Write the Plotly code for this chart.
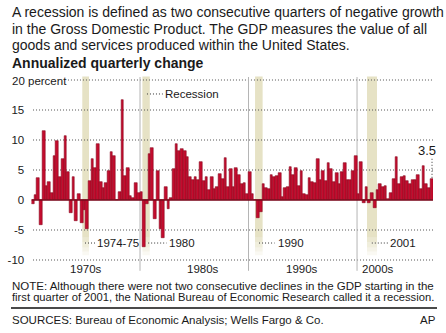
import plotly.graph_objects as go

# ---------------- data ----------------
years = list(range(1970, 2007))
quarters_per_year = 4
growth = [
    -0.7, 0.8, 3.6, -4.2,     # 1970
    11.5, 2.3, 3.0, 1.1,      # 1971
    7.3, 9.8, 3.9, 6.8,       # 1972
    10.6, 4.6, -2.1, 3.9,     # 1973
    -3.5, 1.0, -3.8, -1.6,    # 1974
    -4.8, 3.1, 6.9, 5.3,      # 1975
    9.4, 3.0, 2.0, 2.9,       # 1976
    4.8, 8.0, 7.4, 0.0,       # 1977
    1.3, 16.7, 4.0, 5.4,      # 1978
    0.7, 0.4, 2.9, 1.1,       # 1979
    1.3, -7.9, -0.7, 7.6,     # 1980
    8.6, -3.2, 4.9, -4.9,     # 1981
    -6.4, 2.2, -1.5, 0.3,     # 1982
    5.1, 9.3, 8.1, 8.5,       # 1983
    8.2, 7.2, 3.9, 3.3,       # 1984
    3.8, 3.4, 6.4, 3.1,       # 1985
    3.9, 1.6, 3.9, 1.9,       # 1986
    2.2, 4.4, 3.5, 7.0,       # 1987
    2.1, 5.2, 2.1, 5.4,       # 1988
    4.1, 2.6, 2.9, 1.0,       # 1989
    4.7, 1.0, 0.0, -3.0,      # 1990
    -2.0, 2.6, 2.0, 1.9,      # 1991
    4.2, 3.9, 4.0, 4.5,       # 1992
    0.5, 2.0, 2.1, 5.5,       # 1993
    4.1, 5.3, 2.3, 4.8,       # 1994
    1.0, 0.9, 3.6, 3.0,       # 1995
    2.9, 6.8, 3.4, 4.8,       # 1996
    3.1, 6.2, 5.1, 3.0,       # 1997
    4.5, 2.7, 4.7, 6.2,       # 1998
    3.4, 3.4, 4.8, 7.3,       # 1999
    1.0, 6.4, -0.5, 2.1,      # 2000
    -0.5, 1.2, -1.4, 1.6,     # 2001
    2.7, 2.2, 2.4, 0.2,       # 2002
    1.2, 3.5, 7.2, 2.7,       # 2003
    3.9, 4.0, 3.1, 2.6,       # 2004
    3.4, 3.3, 4.2, 1.8,       # 2005
    5.6, 2.6, 2.0, 3.5,       # 2006
]
recession_starts = [1974.68, 1980.22, 1990.6, 2000.92]
recession_ends = [1975.30, 1980.90, 1991.3, 2001.84]
recession_labels = ["1974-75", "1980", "1990", "2001"]
decades = [1970, 1980, 1990, 2000]
decade_labels = ["1970s", "1980s", "1990s", "2000s"]
tick_values = [-10, -5, 0, 5, 10, 15]
tick_labels = ["-10", "-5", "0", "5", "10", "15"]
last_value_label = "3.5"

# ---------------- figure ----------------
W, H = 446, 333
FONT = "Liberation Sans, Arial, sans-serif"
TXT = "#1a1a1a"

x_centers = [years[0] + (i + 0.5) / quarters_per_year for i in range(len(growth))]

fig = go.Figure()
fig.add_trace(go.Bar(
    x=x_centers, y=growth, width=1 / quarters_per_year,
    marker=dict(color="#c40c2e", line=dict(color="#8a0a20", width=0.6)),
    hoverinfo="skip", showlegend=False,
))

shapes = []
# recession bands with a fading bottom
for s, e in zip(recession_starts, recession_ends):
    shapes.append(dict(type="rect", xref="x", yref="y", x0=s, x1=e, y0=-6.3, y1=20.6,
                       fillcolor="#e6e2c5", line=dict(width=0), layer="below"))
    for k, (a, b) in enumerate([(-7.1, -6.3), (-7.9, -7.1), (-8.6, -7.9), (-9.2, -8.6)]):
        shapes.append(dict(type="rect", xref="x", yref="y", x0=s, x1=e, y0=a, y1=b,
                           fillcolor="#e6e2c5", opacity=[0.8, 0.6, 0.4, 0.2][k],
                           line=dict(width=0), layer="below"))

# dotted gridlines
for v in [-10, -5, 5, 10, 15]:
    shapes.append(dict(type="line", xref="x", yref="y", x0=1970.14, x1=2007, y0=v, y1=v,
                       line=dict(color="#555555", width=1, dash="1px,2px"), layer="below"))
shapes.append(dict(type="line", xref="x", yref="y", x0=1973.36, x1=2007, y0=20, y1=20,
                   line=dict(color="#555555", width=1, dash="1px,2px"), layer="below"))

# decade separators
for d in decades[1:]:
    shapes.append(dict(type="line", xref="x", yref="y", x0=d, x1=d, y0=-11.8, y1=20.5,
                       line=dict(color="#b4b4b4", width=1), layer="below"))

# zero line
shapes.append(dict(type="line", xref="x", yref="y", x0=1970, x1=2007, y0=0, y1=0,
                   line=dict(color="#7a0a1c", width=1.5), layer="above"))

# legend dots
shapes.append(dict(type="line", xref="x", yref="y", x0=1980.64, x1=1982.1, y0=17.67, y1=17.67,
                   line=dict(color="#333", width=1, dash="1px,2px")))
# recession label leaders
leaders = [(1974.93, 1975.85), (1980.75, 1982.45), (1990.97, 1992.4), (2001.36, 2002.85)]
for (a, b) in leaders:
    shapes.append(dict(type="line", xref="x", yref="y", x0=a, x1=b, y0=-7.17, y1=-7.17,
                       line=dict(color="#333", width=1, dash="1px,2px")))
# 3.5 leader
shapes.append(dict(type="line", xref="x", yref="y", x0=2006.91, x1=2006.91, y0=3.7, y1=7.0,
                   line=dict(color="#333", width=1, dash="1px,2px")))

annotations = []
def ann(text, x, y, xref="paper", yref="paper", size=13, xanchor="left", bold=False, color=TXT):
    annotations.append(dict(text=("<b>%s</b>" % text) if bold else text, x=x, y=y, xref=xref, yref=yref,
                            xanchor=xanchor, yanchor="middle", showarrow=False,
                            font=dict(family=FONT, size=size, color=color), borderpad=0))

ann("A recession is defined as two consecutive quarters of negative growth", 11 / W, 1 - 12.5 / H, size=14)
ann("in the Gross Domestic Product. The GDP measures the value of all", 11 / W, 1 - 28.5 / H, size=14)
ann("goods and services produced within the United States.", 11 / W, 1 - 44.5 / H, size=14)
ann("Annualized quarterly change", 11 / W, 1 - 63 / H, bold=True, size=14)
ann("20 percent", 11 / W, 19.85, yref="y", size=11.5)
ann("Recession", 1982.2, 17.67, xref="x", yref="y", size=11.5)
label_x = [1975.94, 1982.55, 1992.6, 2002.95]
for t, lx in zip(recession_labels, label_x):
    ann(t, lx, -7.17, xref="x", yref="y", size=11.5)
decade_x = [1975.02, 1985.76, 1994.93, 2001.96]
for t, dx in zip(decade_labels, decade_x):
    ann(t, dx, -11.45, xref="x", yref="y", size=11.5, xanchor="center")
ann(last_value_label, 2006.44, 8.2, xref="x", yref="y", size=13, xanchor="center")
ann("NOTE: Although there were not two consecutive declines in the GDP starting in the",
    11 / W, 1 - 286 / H, size=11.5)
ann("first quarter of 2001, the National Bureau of Economic Research called it a recession.",
    11 / W, 1 - 297 / H, size=11.2)
ann("SOURCES: Bureau of Economic Analysis; Wells Fargo &amp; Co.", 11 / W, 1 - 320 / H, size=11.5)
ann("AP", 437 / W, 1 - 320 / H, size=11.5, xanchor="right")

shapes.append(dict(type="line", xref="paper", yref="paper", x0=11 / W, x1=437 / W,
                   y0=1 - 308 / H, y1=1 - 308 / H, line=dict(color="#4a4a4a", width=2)))

# axis geometry: 1970 -> 31.5px, 2007 -> 433px ; y=0 -> 200px, 6px per unit
y_lo, y_hi = -12, 21
fig.update_layout(
    width=W, height=H, margin=dict(l=0, r=0, t=0, b=0),
    paper_bgcolor="white", plot_bgcolor="rgba(0,0,0,0)",
    bargap=0, shapes=shapes, annotations=annotations,
    xaxis=dict(range=[1970, 2007], domain=[31.5 / W, 433 / W], visible=False, fixedrange=True),
    yaxis=dict(range=[y_lo, y_hi], domain=[1 - (200 - 6 * y_lo) / H, 1 - (200 - 6 * y_hi) / H],
               tickvals=tick_values, ticktext=tick_labels, showgrid=False, zeroline=False,
               showline=False, ticks="outside", ticklen=4, tickcolor="rgba(0,0,0,0)",
               tickfont=dict(family=FONT, size=11.5, color=TXT), fixedrange=True),
    showlegend=False,
)
fig.write_html("out.html", config={"displayModeBar": False})
